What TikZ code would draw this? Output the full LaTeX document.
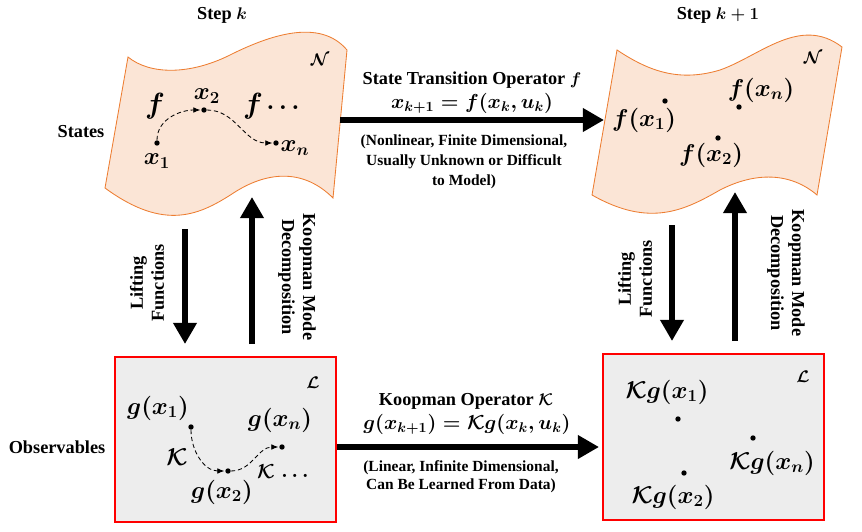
\documentclass[tikz,border=0pt]{standalone}
\usepackage{amsmath,amssymb}
\usepackage[no-math]{fontspec}
\setmainfont{Liberation Serif}
\usepackage{tikz}
\usetikzlibrary{positioning,calc,arrows.meta}
\definecolor{sheetbg}{HTML}{FBE5D6}
\definecolor{sheetline}{HTML}{ED7D31}
\definecolor{obsbg}{HTML}{EDEDED}

\begin{document}
\begin{tikzpicture}[x=0.025cm, y=-0.025cm, >=Stealth,
  sheet/.style={draw=sheetline, fill=sheetbg, line width=0.6pt},
  obsbox/.style={draw=red, fill=obsbg, line width=1.6pt, minimum width=5.525cm, minimum height=4.125cm},
  bigarrow/.style={line width=4.5pt, -{Triangle[length=15pt, width=16pt]}},
  dot/.style={circle, fill=black, inner sep=0pt, minimum size=3.8pt},
  flow/.style={densely dashed, line width=0.6pt, -{Latex[length=5pt, width=4pt]}, shorten >=0.5pt},
  lbl/.style={font=\bfseries\boldmath\fontsize{13}{15}\selectfont, align=center},
  note/.style={font=\bfseries\fontsize{11}{14.2}\selectfont, align=center},
  eqn/.style={font=\boldmath\fontsize{14}{16}\selectfont},
  mlbl/.style={font=\boldmath\fontsize{17}{19}\selectfont, inner sep=1pt},
  spacelbl/.style={font=\boldmath\fontsize{12}{14}\selectfont}]
  \useasboundingbox (0,0) rectangle (862,532);

  % State space sheets
  \draw[sheet] (128,57) .. controls (150,75) and (190,75) .. (230,55) .. controls (270,35) and (320,18) .. (347,50)
    -- (333,198) .. controls (305,170) and (270,170) .. (235,192) .. controls (200,215) and (165,232) .. (105,188) -- cycle;
  \draw[sheet] (617,50) .. controls (650,72) and (680,82) .. (720,70) .. controls (760,56) and (800,15) .. (842,47)
    -- (817,195) .. controls (790,172) and (755,172) .. (720,190) .. controls (685,210) and (650,228) .. (592,195) -- cycle;

  % Observable boxes
  \node[obsbox] (obsL) at (225.5,439.5) {};
  \node[obsbox, minimum height=4.15cm] (obsR) at (713.5,437) {};

  % Headings
  \node[lbl] (stepA) at (222,15) {Step $k$};
  \node[lbl] (stepB) at (718,15) {Step $k+1$};
  \node[lbl] (states) at (81,132) {States};
  \node[lbl] (observ) at (57,447) {Observables};

  % Step k states
  \node[spacelbl] (manA) at (320,60) {$\mathcal{N}$};
  \node[dot] (x1) at (157,143) {};
  \node[dot] (x2) at (204,110) {};
  \node[dot] (xn) at (276,143) {};
  \node[mlbl] at (157,161) {$x_1$};
  \node[mlbl] at (207,96) {$x_2$};
  \node[mlbl] at (295,148) {$x_n$};
  \node[mlbl, font=\boldmath\fontsize{22}{24}\selectfont] (fA) at (155,106) {$f$};
  \node[mlbl, font=\boldmath\fontsize{22}{24}\selectfont] (fB) at (253,106) {$f$};
  \node[mlbl] at (283,108) {$\ldots$};
  \draw[flow] (x1) to[out=90, in=180] (x2);
  \draw[flow] (x2) to[out=0, in=180] (xn);

  % Step k+1 states
  \node[spacelbl] (manB) at (813,58) {$\mathcal{N}$};
  \node[dot] (fx1) at (665,101) {};
  \node[dot] (fx2) at (718,138) {};
  \node[dot] (fxn) at (739,107) {};
  \node[mlbl] at (644,120) {$f(x_1)$};
  \node[mlbl] at (711,155) {$f(x_2)$};
  \node[mlbl] at (761,90) {$f(x_n)$};

  % Step k observables
  \node[spacelbl] (linA) at (313,383) {$\mathcal{L}$};
  \node[dot] (g1) at (191,427) {};
  \node[dot] (g2) at (228,471) {};
  \node[dot] (gn) at (282,447) {};
  \node[mlbl] at (158,408) {$g(x_1)$};
  \node[mlbl] at (222,492) {$g(x_2)$};
  \node[mlbl] at (280,420) {$g(x_n)$};
  \node[mlbl] at (177,457) {$\mathcal{K}$};
  \node[mlbl, font=\boldmath\fontsize{15}{17}\selectfont] at (266,472) {$\mathcal{K}$};
  \node[mlbl, font=\boldmath\fontsize{15}{17}\selectfont] at (295,476) {$\ldots$};
  \draw[flow] (g1) to[out=-90, in=180] (g2);
  \draw[flow] (g2) to[out=0, in=180] (gn);

  % Step k+1 observables
  \node[spacelbl] (linB) at (803,377) {$\mathcal{L}$};
  \node[dot] (kg1) at (678,419) {};
  \node[dot] (kg2) at (684,473) {};
  \node[dot] (kgn) at (753,438) {};
  \node[mlbl] at (667,392) {$\mathcal{K}g(x_1)$};
  \node[mlbl] at (673,497) {$\mathcal{K}g(x_2)$};
  \node[mlbl] at (772,463) {$\mathcal{K}g(x_n)$};

  % Transition operators
  \coordinate (stateOut) at (340,120);
  \coordinate (stateIn) at (604,120);
  \draw[bigarrow] (stateOut) -- (stateIn);
  \node[lbl] (opF) at (472,80) {State Transition Operator $f$};
  \node[eqn] (eqF) at (472,103) {$x_{k+1} = f(x_k,u_k)$};
  \node[note] (noteF) at (464,162) {(Nonlinear, Finite Dimensional,\\Usually Unknown or Difficult\\to Model)};

  \coordinate (obsOut) at (obsL.east |- 0,447);
  \coordinate (obsIn) at (599,447);
  \draw[bigarrow] (obsOut) -- (obsIn);
  \node[lbl] (opK) at (466,401) {Koopman Operator $\mathcal{K}$};
  \node[eqn] (eqK) at (467,424) {$g(x_{k+1}) = \mathcal{K}g(x_k,u_k)$};
  \node[note, font=\bfseries\fontsize{11}{13}\selectfont] (noteK) at (461,477) {(Linear, Infinite Dimensional,\\Can Be Learned From Data)};

  % Lifting and decomposition arrows
  \coordinate (liftAtop) at (185,229);
  \coordinate (liftAbot) at (185,344);
  \coordinate (decAbot) at (252,344);
  \coordinate (decAtop) at (252,197);
  \coordinate (liftBtop) at (672,225);
  \coordinate (liftBbot) at (672,341);
  \coordinate (decBbot) at (735,341);
  \coordinate (decBtop) at (735,192);
  \draw[bigarrow] (liftAtop) -- (liftAbot);
  \draw[bigarrow] (decAbot) -- (decAtop);
  \draw[bigarrow] (liftBtop) -- (liftBbot);
  \draw[bigarrow] (decBbot) -- (decBtop);
  \node[lbl, rotate=90] (liftA) at (147,283) {Lifting\\Functions};
  \node[lbl, rotate=-90] (decA) at (297,277) {Koopman Mode\\Decomposition};
  \node[lbl, rotate=90] (liftB) at (635,279) {Lifting\\Functions};
  \node[lbl, rotate=-90] (decB) at (786,273) {Koopman Mode\\Decomposition};
\end{tikzpicture}
\end{document}
